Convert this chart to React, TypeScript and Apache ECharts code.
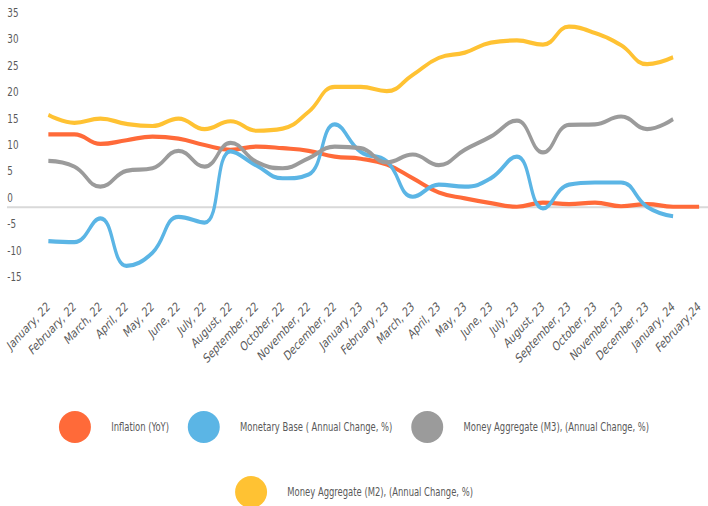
import React, { useEffect, useRef } from "react";
import * as echarts from "echarts";

const categories = [
  "January, 22", "February, 22", "March, 22", "April, 22", "May, 22", "June, 22",
  "July, 22", "August, 22", "September, 22", "October, 22", "November, 22", "December, 22",
  "January, 23", "February, 23", "March, 23", "April, 23", "May, 23", "June, 23",
  "July, 23", "August, 23", "September, 23", "October, 23", "November, 23", "December, 23",
  "January, 24", "February,24",
];

const seriesNames = [
  "Inflation (YoY)",
  "Monetary Base ( Annual Change, %)",
  "Money Aggregate (M3), (Annual Change, %)",
  "Money Aggregate (M2), (Annual Change, %)",
];

const inflation = [13.8, 13.8, 12.0, 12.7, 13.4, 13.0, 11.8, 10.9, 11.5, 11.2, 10.7, 9.6, 9.2, 8.1, 5.5, 2.8, 1.7, 0.8, 0.1, 0.9, 0.6, 0.9, 0.2, 0.6, 0.1, 0.1];
const monetaryBase = [-6.4, -6.6, -2.1, -11.1, -8.6, -1.8, -2.9, 10.6, 7.9, 5.5, 6.2, 15.7, 10.5, 8.7, 2.0, 4.3, 3.9, 5.5, 9.6, -0.2, 4.3, 4.7, 4.7, 0.1, -1.7];
const m3 = [8.8, 7.7, 3.9, 6.9, 7.4, 10.7, 7.7, 12.2, 8.6, 7.4, 9.3, 11.5, 11.2, 8.5, 10.0, 8.0, 10.9, 13.4, 16.4, 10.4, 15.6, 15.7, 17.2, 14.8, 16.7];
const m2 = [17.5, 16.0, 16.8, 15.8, 15.4, 16.8, 14.8, 16.3, 14.5, 14.9, 18.1, 22.8, 22.8, 22.0, 25.1, 28.3, 29.3, 31.2, 31.6, 30.8, 34.2, 33.0, 30.7, 27.1, 28.4];

const colors = ["#FF6A39", "#5BB5E5", "#9B9B9B", "#FFC233"];
const yMin = -15;
const yMax = 35;
const yStep = 5;

const FONT = "'Liberation Sans Narrow', 'DejaVu Sans Condensed', 'Liberation Sans', sans-serif";

// the reference is a horizontally condensed picture: draw wider, then squeeze
const SQUEEZE = 0.78;
const W = 708;
const H = 506;
const IW = Math.round(W / SQUEEZE);

const ELLIPSE = "path://M0,16a20.5,16 0 1,0 41,0a20.5,16 0 1,0 -41,0z";

export default function App() {
  const ref = useRef<HTMLDivElement>(null);
  useEffect(() => {
    if (!ref.current) return;
    const chart = echarts.init(ref.current, undefined, { renderer: "svg" });
    const dataSets = [inflation, monetaryBase, m3, m2];
    const legendText = {
      fontFamily: FONT,
      fontSize: 12,
      color: "#595959",
      padding: [0, 0, 0, 21],
    };
    chart.setOption({
      animation: false,
      textStyle: { fontFamily: FONT },
      grid: { left: 62, right: 11.7, top: 22.5, bottom: 219.5, containLabel: false },
      legend: [
        {
          data: seriesNames.slice(0, 3),
          left: "center",
          top: 406,
          icon: ELLIPSE,
          itemWidth: 41,
          itemHeight: 32,
          itemGap: 24,
          textStyle: legendText,
        },
        {
          data: seriesNames.slice(3),
          left: "center",
          top: 471,
          icon: ELLIPSE,
          itemWidth: 41,
          itemHeight: 32,
          textStyle: legendText,
        },
      ],
      xAxis: {
        type: "category",
        data: categories,
        boundaryGap: false,
        axisLine: { show: false },
        axisTick: { show: false },
        splitLine: { show: false },
        axisLabel: {
          rotate: 40,
          interval: 0,
          margin: 18,
          fontFamily: FONT,
          fontSize: 13,
          color: "#595959",
        },
      },
      yAxis: {
        type: "value",
        min: yMin,
        max: yMax,
        interval: yStep,
        axisLine: { show: false },
        axisTick: { show: false },
        splitLine: { show: false },
        axisLabel: {
          align: "left",
          margin: 52.6,
          verticalAlign: "bottom",
          padding: [0, 0, 3, 0],
          fontFamily: FONT,
          fontSize: 12.5,
          color: "#595959",
        },
      },
      series: dataSets.map((d, i) => ({
        name: seriesNames[i],
        type: "line",
        data: d,
        smooth: 0.45,
        showSymbol: false,
        symbol: "none",
        lineStyle: { width: 4.2, color: colors[i] },
        itemStyle: { color: colors[i] },
        z: 3,
      })),
    });
    const y0 = chart.convertToPixel({ yAxisIndex: 0 }, 0) as number;
    chart.setOption({
      graphic: [
        {
          type: "line",
          z: 0,
          shape: { x1: 9, y1: y0, x2: IW, y2: y0 },
          style: { stroke: "#D9D9D9", lineWidth: 2 },
        },
      ],
    });
    return () => chart.dispose();
  }, []);
  return (
    <div
      style={{
        position: "fixed",
        left: 0,
        top: 0,
        width: W,
        height: H,
        overflow: "hidden",
        background: "#fff",
      }}
    >
      <div
        ref={ref}
        style={{
          width: IW,
          height: H,
          transform: `scaleX(${SQUEEZE})`,
          transformOrigin: "0 0",
        }}
      />
    </div>
  );
}
